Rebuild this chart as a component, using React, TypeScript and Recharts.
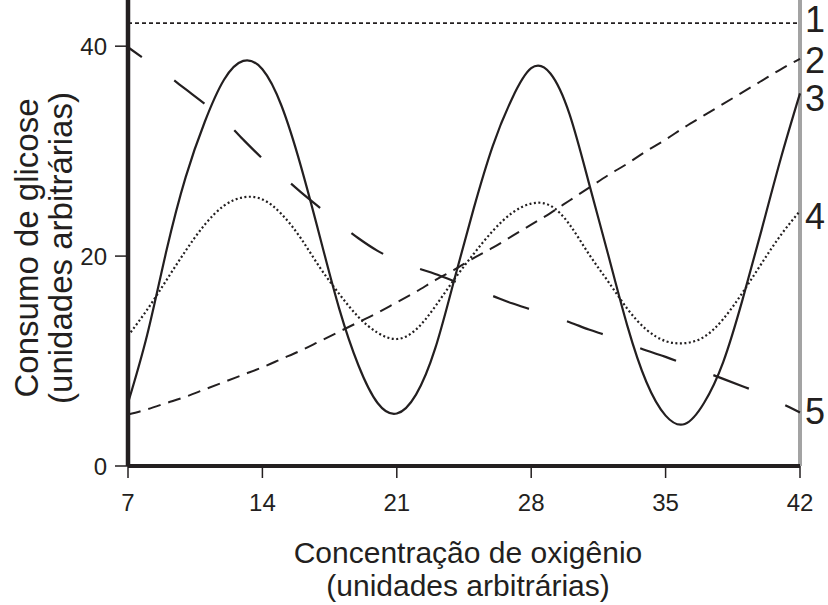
import { LineChart, Line, XAxis, YAxis, ReferenceLine, ReferenceDot } from 'recharts';

const oxygen = [7, 8, 9, 10, 11, 12, 13, 14, 15, 16, 17, 18, 19, 20, 21, 22, 23, 24, 25, 26, 27, 28, 29, 30, 31, 32, 33, 34, 35, 36, 37, 38, 39, 40, 41, 42];

// curve 2 (short dashes, rising)
const curve2 = [4.9, 5.4, 6.0, 6.6, 7.3, 8.0, 8.7, 9.4, 10.2, 11.0, 11.9, 12.8, 13.7, 14.6, 15.6, 16.6, 17.7, 18.7, 19.8, 20.8, 21.9, 23.0, 24.1, 25.3, 26.5, 27.7, 28.8, 30.0, 31.1, 32.3, 33.4, 34.5, 35.6, 36.7, 37.8, 38.8];
// curve 3 (solid, large oscillation)
const curve3 = [6.0, 12.5, 20.5, 27.5, 32.8, 36.8, 38.6, 37.8, 34.3, 28.6, 21.8, 15.0, 9.6, 6.0, 5.0, 6.8, 11.2, 17.8, 24.5, 30.5, 35.0, 37.9, 37.4, 33.5, 27.0, 20.2, 13.4, 8.0, 4.8, 4.0, 6.0, 9.9, 15.8, 22.5, 29.3, 35.5];
// curve 4 (dotted, small oscillation)
const curve4 = [12.4, 14.9, 17.7, 20.5, 23.0, 24.8, 25.6, 25.4, 24.0, 21.7, 18.9, 16.4, 14.2, 12.7, 12.1, 13.0, 15.2, 17.8, 20.2, 22.4, 24.1, 25.0, 24.8, 23.0, 20.2, 17.6, 15.0, 13.0, 11.9, 11.7, 12.3, 14.0, 16.5, 19.3, 22.0, 24.3];
// curve 5 (long dashes, falling)
const curve5 = [39.9, 38.6, 37.3, 35.9, 34.5, 33.0, 31.1, 29.3, 27.7, 26.1, 24.6, 23.1, 21.7, 20.5, 19.6, 18.9, 18.3, 17.6, 16.9, 16.2, 15.5, 14.9, 14.3, 13.7, 13.0, 12.4, 11.7, 11.0, 10.4, 9.7, 9.0, 8.3, 7.6, 6.9, 6.0, 5.1];
// curve 1 (flat dotted line near the top)
const curve1Level = 42.2;

const xTicks = [7, 14, 21, 28, 35, 42];
const yTicks = [0, 20, 40];

const INK = '#231f20';
const FONT = '"Liberation Sans", Arial, sans-serif';

const data = oxygen.map((x, i) => ({
  x,
  c2: curve2[i],
  c3: curve3[i],
  c4: curve4[i],
  c5: curve5[i],
}));

const last = data.length - 1;

const EndLabel = (props: any) => {
  const { viewBox, text, dy } = props;
  if (!viewBox) return <g />;
  return (
    <text x={viewBox.x + 5} y={viewBox.y + dy + 13} fontSize={36} fill={INK} fontFamily={FONT}>
      {text}
    </text>
  );
};

// tick text drawn by hand so the font size sticks
const XTick = ({ x, y, payload }: any) => (
  <text x={x} y={y + 31} textAnchor="middle" fontSize={24} fill={INK} fontFamily={FONT}>
    {payload.value}
  </text>
);

const YTick = ({ y, payload }: any) => (
  <text x={107} y={y + 8.5} textAnchor="end" fontSize={24} fill={INK} fontFamily={FONT}>
    {payload.value}
  </text>
);

export default function App() {
  return (
    <div style={{ position: 'absolute', left: 0, top: 0, width: 828, height: 605, background: '#fff', fontFamily: FONT }}>
      <LineChart width={828} height={605} data={data} margin={{ top: 0, right: 28, bottom: 79, left: 0 }}>
        <XAxis
          dataKey="x"
          type="number"
          domain={[7, 42]}
          ticks={xTicks}
          tickSize={12}
          height={60}
          axisLine={{ stroke: INK, strokeWidth: 4 }}
          tickLine={{ stroke: INK, strokeWidth: 1.5 }}
          tick={<XTick />}
        />
        <YAxis
          type="number"
          domain={[0, 44.4]}
          ticks={yTicks}
          allowDataOverflow
          width={128}
          tickSize={13}
          axisLine={{ stroke: INK, strokeWidth: 4.5 }}
          tickLine={{ stroke: INK, strokeWidth: 1.5 }}
          tick={<YTick />}
        />
        <ReferenceLine x={42} stroke="#a3a3a3" strokeWidth={4} />
        <ReferenceLine y={curve1Level} stroke={INK} strokeWidth={1.6} strokeDasharray="4 3" />
        <Line type="monotone" dataKey="c2" stroke={INK} strokeWidth={2} strokeDasharray="13 8" dot={false} isAnimationActive={false} />
        <Line type="natural" dataKey="c3" stroke={INK} strokeWidth={2.2} dot={false} isAnimationActive={false} />
        <Line type="natural" dataKey="c4" stroke={INK} strokeWidth={2.2} strokeDasharray="2 2.5" dot={false} isAnimationActive={false} />
        <Line type="monotone" dataKey="c5" stroke={INK} strokeWidth={2.2} strokeDasharray="38 40" strokeDashoffset={21} dot={false} isAnimationActive={false} />
        <ReferenceDot x={42} y={curve1Level} r={0} fill="none" stroke="none" label={<EndLabel text="1" dy={-4.5} />} />
        <ReferenceDot x={42} y={curve2[last]} r={0} fill="none" stroke="none" label={<EndLabel text="2" dy={1.5} />} />
        <ReferenceDot x={42} y={curve3[last]} r={0} fill="none" stroke="none" label={<EndLabel text="3" dy={5} />} />
        <ReferenceDot x={42} y={curve4[last]} r={0} fill="none" stroke="none" label={<EndLabel text="4" dy={5} />} />
        <ReferenceDot x={42} y={curve5[last]} r={0} fill="none" stroke="none" label={<EndLabel text="5" dy={-1} />} />
      </LineChart>
      <div
        style={{
          position: 'absolute',
          left: 44 - 200,
          top: 248 - 34,
          width: 400,
          height: 68,
          transform: 'rotate(-90deg)',
          textAlign: 'center',
          fontSize: 33,
          lineHeight: '34px',
          color: INK,
        }}
      >
        Consumo de glicose
        <br />
        (unidades arbitrárias)
      </div>
      <div
        style={{
          position: 'absolute',
          left: 268,
          top: 536,
          width: 400,
          textAlign: 'center',
          fontSize: 30,
          lineHeight: '33px',
          color: INK,
        }}
      >
        Concentração de oxigênio
        <br />
        (unidades arbitrárias)
      </div>
    </div>
  );
}
